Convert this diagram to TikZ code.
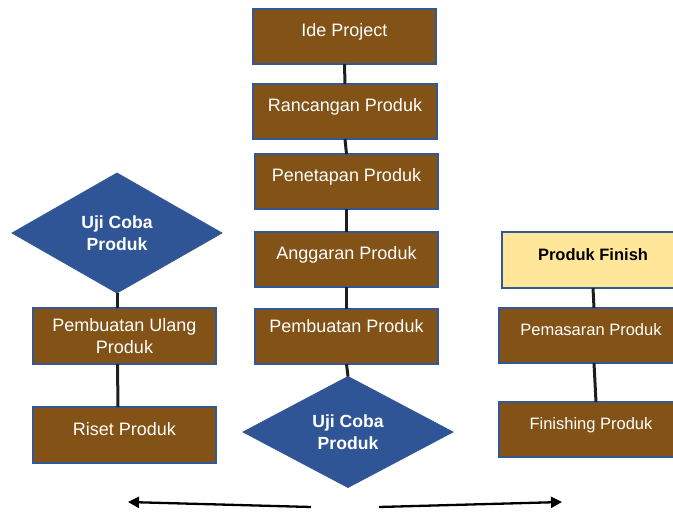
\documentclass[tikz,border=0pt]{standalone}
\usepackage{fontspec}
\setmainfont{Liberation Sans}
\usetikzlibrary{shapes.geometric,arrows.meta}
\definecolor{boxbrown}{RGB}{131,82,22}
\definecolor{boxedge}{RGB}{52,88,150}
\definecolor{diafill}{RGB}{47,85,151}
\definecolor{finfill}{RGB}{255,230,153}
\definecolor{connc}{RGB}{30,30,30}
\begin{document}
\begin{tikzpicture}[x=1pt,y=-1pt,
  box/.style={rectangle, draw=boxedge, line width=1.3pt, fill=boxbrown, text=white,
    minimum width=183pt, minimum height=55pt, inner sep=0pt, outer sep=0pt,
    font=\fontsize{18}{22}\selectfont},
  rbox/.style={box, minimum width=184pt, font=\fontsize{16.5}{20}\selectfont},
  one/.style={text height=5pt, text depth=5pt},
  two/.style={align=center},
  dia/.style={diamond, draw=boxedge, line width=0.8pt, fill=diafill, text=white,
    inner sep=0pt, outer sep=0pt, font=\bfseries\fontsize{17.6}{22}\selectfont, align=center},
  link/.style={draw=connc, line width=3pt},
  arr/.style={draw=black, line width=2.3pt, -{Triangle[length=11pt,width=11pt]}}
]
\path[use as bounding box] (0,0) rectangle (673,512);
\clip (0,0) rectangle (673,512);

% central column
\node[box,one] (ide) at (344.5,36.5) {Ide Project};
\node[box,one,minimum width=184pt] (ran) at (345,111.5) {Rancangan Produk};
\node[box,one] (pen) at (346.5,181.5) {Penetapan Produk};
\node[box,one] (ang) at (346.5,259.5) {Anggaran Produk};
\node[box,text height=0.5pt,text depth=9.5pt] (pem) at (346.5,336.5) {Pembuatan Produk};
\node[dia,minimum width=210pt,minimum height=111pt] (cd) at (348,432) {Uji Coba\\Produk};

% left column
\node[dia,minimum width=210pt,minimum height=120pt] (ld) at (117,233) {Uji Coba\\Produk};
\node[box,two,minimum height=56pt] (pu) at (124.5,336) {Pembuatan Ulang\\Produk};
\node[box,one,minimum height=56pt] (ris) at (124.5,435) {Riset Produk};

% right column
\node[rbox,one,minimum width=182pt,minimum height=56pt,fill=finfill,text=black,
  font=\bfseries\fontsize{16.5}{20}\selectfont] (pf) at (593,260) {Produk Finish};
\node[rbox,one] (pm) at (591,335.5) {Pemasaran Produk};
\node[rbox,one] (fin) at (591,429.5) {Finishing Produk};

% connectors
\draw[link] (ide.south) -- (ran.north);
\draw[link] (ran.south) -- (pen.north);
\draw[link] (pen.south) -- (ang.north);
\draw[link] (ang.south) -- (pem.north);
\draw[link] (pem.south) -- (cd.north);
\draw[link] (ld.south) -- (ld.south |- pu.north);
\draw[link] ([xshift=0.5pt]ld.south |- pu.south) -- ([xshift=1pt]ld.south |- ris.north);
\draw[link] (pf.south) -- ([xshift=1pt]pf.south |- pm.north);
\draw[link] ([xshift=1pt]pf.south |- pm.south) -- ([xshift=3pt]pf.south |- fin.north);

% bottom arrows
\coordinate (la0) at (311,507);
\coordinate (la1) at (128,502);
\coordinate (ra0) at (379,507);
\coordinate (ra1) at (562,502);
\draw[arr] (la0) -- (la1);
\draw[arr] (ra0) -- (ra1);
\end{tikzpicture}
\end{document}
